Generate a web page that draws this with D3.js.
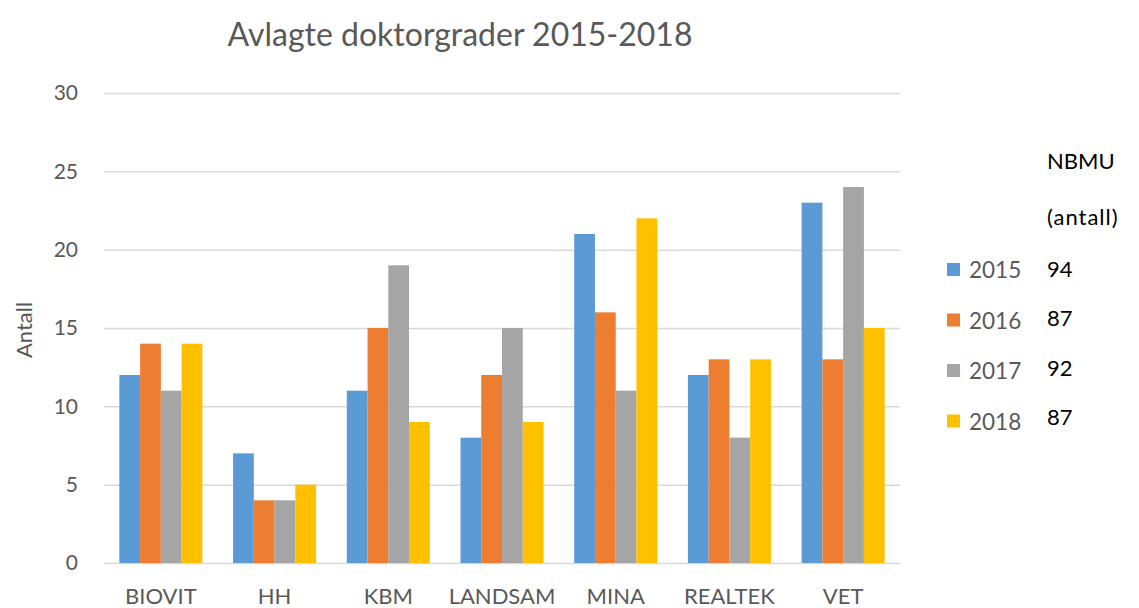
<!DOCTYPE html>
<html>
<head>
<meta charset="utf-8">
<script src="https://cdn.jsdelivr.net/npm/d3@7"></script>
<style>
  body { margin: 0; background: #fff; }
  text { font-family: Lato, "Open Sans", sans-serif; }
</style>
</head>
<body>
<div id="wrapper"></div>
<script>
// Chart values
const categories = ["BIOVIT", "HH", "KBM", "LANDSAM", "MINA", "REALTEK", "VET"]
const years = ["2015", "2016", "2017", "2018"]
const values2015 = [12, 7, 11, 8, 21, 12, 23]
const values2016 = [14, 4, 15, 12, 16, 13, 13]
const values2017 = [11, 4, 19, 15, 11, 8, 24]
const values2018 = [14, 5, 9, 9, 22, 13, 15]
const nbmuTotals = [94, 87, 92, 87]
const yTicks = [0, 5, 10, 15, 20, 25, 30]
const colors = ["#5B9BD5", "#ED7D31", "#A5A5A5", "#FFC000"]

const series = [values2015, values2016, values2017, values2018]

let dimensions = {
  width: 1139,
  height: 608,
  margin: { top: 93, right: 239, bottom: 45, left: 104 }
}
dimensions.boundedWidth = dimensions.width - dimensions.margin.left - dimensions.margin.right
dimensions.boundedHeight = dimensions.height - dimensions.margin.top - dimensions.margin.bottom

const wrapper = d3.select('#wrapper').append('svg')
  .attr('width', dimensions.width).attr('height', dimensions.height)
const bounds = wrapper.append('g')
  .attr('transform', `translate(${dimensions.margin.left},${dimensions.margin.top})`)

// Scales
const xScale = d3.scaleBand().domain(categories).range([0, dimensions.boundedWidth])
  .paddingInner(0.27).paddingOuter(0.135)
const xInner = d3.scaleBand().domain(years).range([0, xScale.bandwidth()])
const yScale = d3.scaleLinear().domain([0, 30]).range([dimensions.boundedHeight, 0])

// Gridlines + y labels
const yAxis = bounds.append('g')
  .call(d3.axisLeft(yScale).tickValues(yTicks).tickSize(-dimensions.boundedWidth).tickPadding(26))
yAxis.select('.domain').remove()
yAxis.selectAll('.tick line').attr('stroke', '#D9D9D9').attr('stroke-width', 1.5)
yAxis.selectAll('.tick text').attr('fill', '#595959').style('font-size', '21px')
  .style('font-family', 'Lato, "Open Sans", sans-serif')

// Bars
const groups = bounds.append('g').selectAll('g')
  .data(categories).enter().append('g')
  .attr('transform', d => `translate(${xScale(d)},0)`)

groups.selectAll('rect')
  .data((d, i) => years.map((y, j) => ({ year: y, value: series[j][i], color: colors[j] })))
  .enter().append('rect')
  .attr('x', d => xInner(d.year))
  .attr('y', d => yScale(d.value))
  .attr('width', xInner.bandwidth())
  .attr('height', d => dimensions.boundedHeight - yScale(d.value))
  .attr('fill', d => d.color)

// x axis labels
const xAxis = bounds.append('g')
  .attr('transform', `translate(0,${dimensions.boundedHeight})`)
  .call(d3.axisBottom(xScale).tickSize(0).tickPadding(25))
xAxis.select('.domain').remove()
xAxis.selectAll('.tick text').attr('fill', '#595959').style('font-size', '22px')
  .style('font-family', 'Lato, "Open Sans", sans-serif')

// Title
wrapper.append('text')
  .attr('x', 460).attr('y', 46)
  .attr('text-anchor', 'middle')
  .attr('fill', '#595959')
  .style('font-size', '32px')
  .text('Avlagte doktorgrader 2015-2018')

// y axis title
wrapper.append('text')
  .attr('transform', 'translate(32,330) rotate(-90)')
  .attr('text-anchor', 'middle')
  .attr('fill', '#595959')
  .style('font-size', '22px')
  .text('Antall')

// Legend
const legend = wrapper.append('g')
legend.append('text').attr('x', 1047).attr('y', 169)
  .attr('fill', '#000').style('font-size', '22px').text('NBMU')
legend.append('text').attr('x', 1047).attr('y', 225)
  .attr('fill', '#000').style('font-size', '22px').style('letter-spacing', '1px').text('(antall)')

const legendItems = legend.selectAll('g.item')
  .data(years).enter().append('g').attr('class', 'item')
  .attr('transform', (d, i) => `translate(0,${270 + i * 50.5})`)
legendItems.append('rect')
  .attr('x', 947).attr('y', -7).attr('width', 13).attr('height', 13)
  .attr('fill', (d, i) => colors[i])
legendItems.append('text')
  .attr('x', 969).attr('y', 8)
  .attr('fill', '#595959').style('font-size', '22.5px')
  .text(d => d)
legendItems.append('text')
  .attr('x', 1047).attr('y', (d, i) => 7 - i * 1.2)
  .attr('fill', '#000').style('font-size', '22px')
  .text((d, i) => nbmuTotals[i])
</script>
</body>
</html>
